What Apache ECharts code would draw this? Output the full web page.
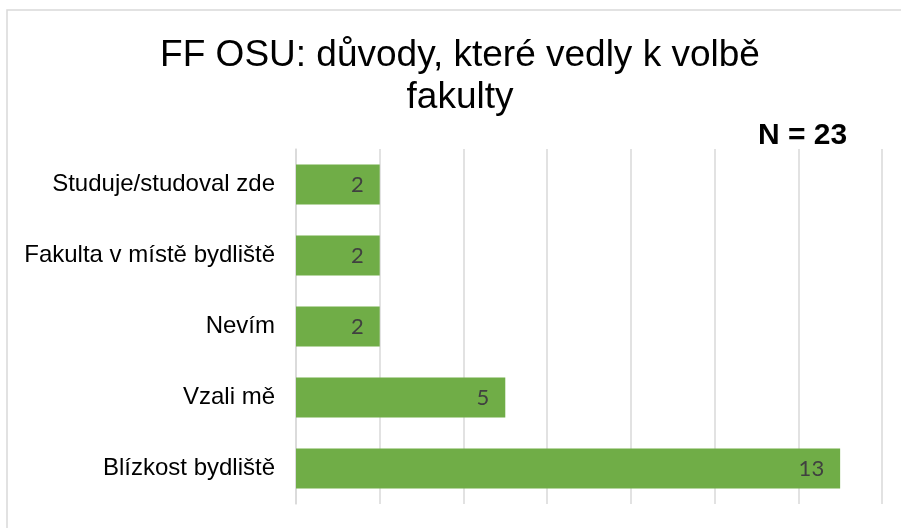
<!DOCTYPE html>
<html>
<head>
<meta charset="utf-8">
<script src="https://cdn.jsdelivr.net/npm/echarts@6/dist/echarts.min.js"></script>
<style>
html,body{margin:0;padding:0;background:#fff;}
#chart{width:901px;height:528px;}
</style>
</head>
<body>
<div id="chart"></div>
<script>
// Data (bottom to top in category axis order)
const categories = ['Blízkost bydliště', 'Vzali mě', 'Nevím', 'Fakulta v místě bydliště', 'Studuje/studoval zde'];
const values = [13, 5, 2, 2, 2];
const titleText = 'FF OSU: důvody, které vedly k volbě\nfakulty';
const noteText = 'N = 23';

const chart = echarts.init(document.getElementById('chart'), null, {renderer: 'canvas'});
chart.setOption({
  backgroundColor: '#ffffff',
  animation: false,
  graphic: [{
    type: 'rect',
    shape: {x: 7, y: 10, width: 1000, height: 1000},
    style: {fill: 'none', stroke: '#d9d9d9', lineWidth: 1.5},
    silent: true
  }],
  title: [{
    text: titleText,
    left: 455,
    top: 30,
    textAlign: 'center',
    textStyle: {
      fontFamily: 'Liberation Sans, Arial, sans-serif',
      fontSize: 37,
      fontWeight: 'normal',
      color: '#000000',
      lineHeight: 42
    }
  }, {
    text: noteText,
    left: 753,
    top: 116,
    textStyle: {
      fontFamily: 'Liberation Sans, Arial, sans-serif',
      fontSize: 30,
      fontWeight: 'bold',
      color: '#000000'
    }
  }],
  grid: {left: 296, right: 19, top: 149, bottom: 24, containLabel: false},
  xAxis: {
    type: 'value',
    min: 0,
    max: 14,
    interval: 2,
    axisLabel: {show: false},
    axisTick: {show: false},
    axisLine: {show: false},
    splitLine: {show: true, lineStyle: {color: '#d9d9d9', width: 1.5}}
  },
  yAxis: {
    type: 'category',
    data: categories,
    axisTick: {show: false},
    axisLine: {show: true, lineStyle: {color: '#d9d9d9', width: 1.5}},
    axisLabel: {
      fontFamily: 'Liberation Sans, Arial, sans-serif',
      fontSize: 24,
      color: '#000000',
      margin: 21
    }
  },
  series: [{
    type: 'bar',
    data: values,
    barWidth: 40,
    itemStyle: {color: '#70ad47'},
    label: {
      show: true,
      position: 'insideRight',
      distance: 16,
      fontFamily: 'Lato, Open Sans, sans-serif',
      fontSize: 22,
      color: '#404040'
    }
  }]
});
</script>
</body>
</html>
